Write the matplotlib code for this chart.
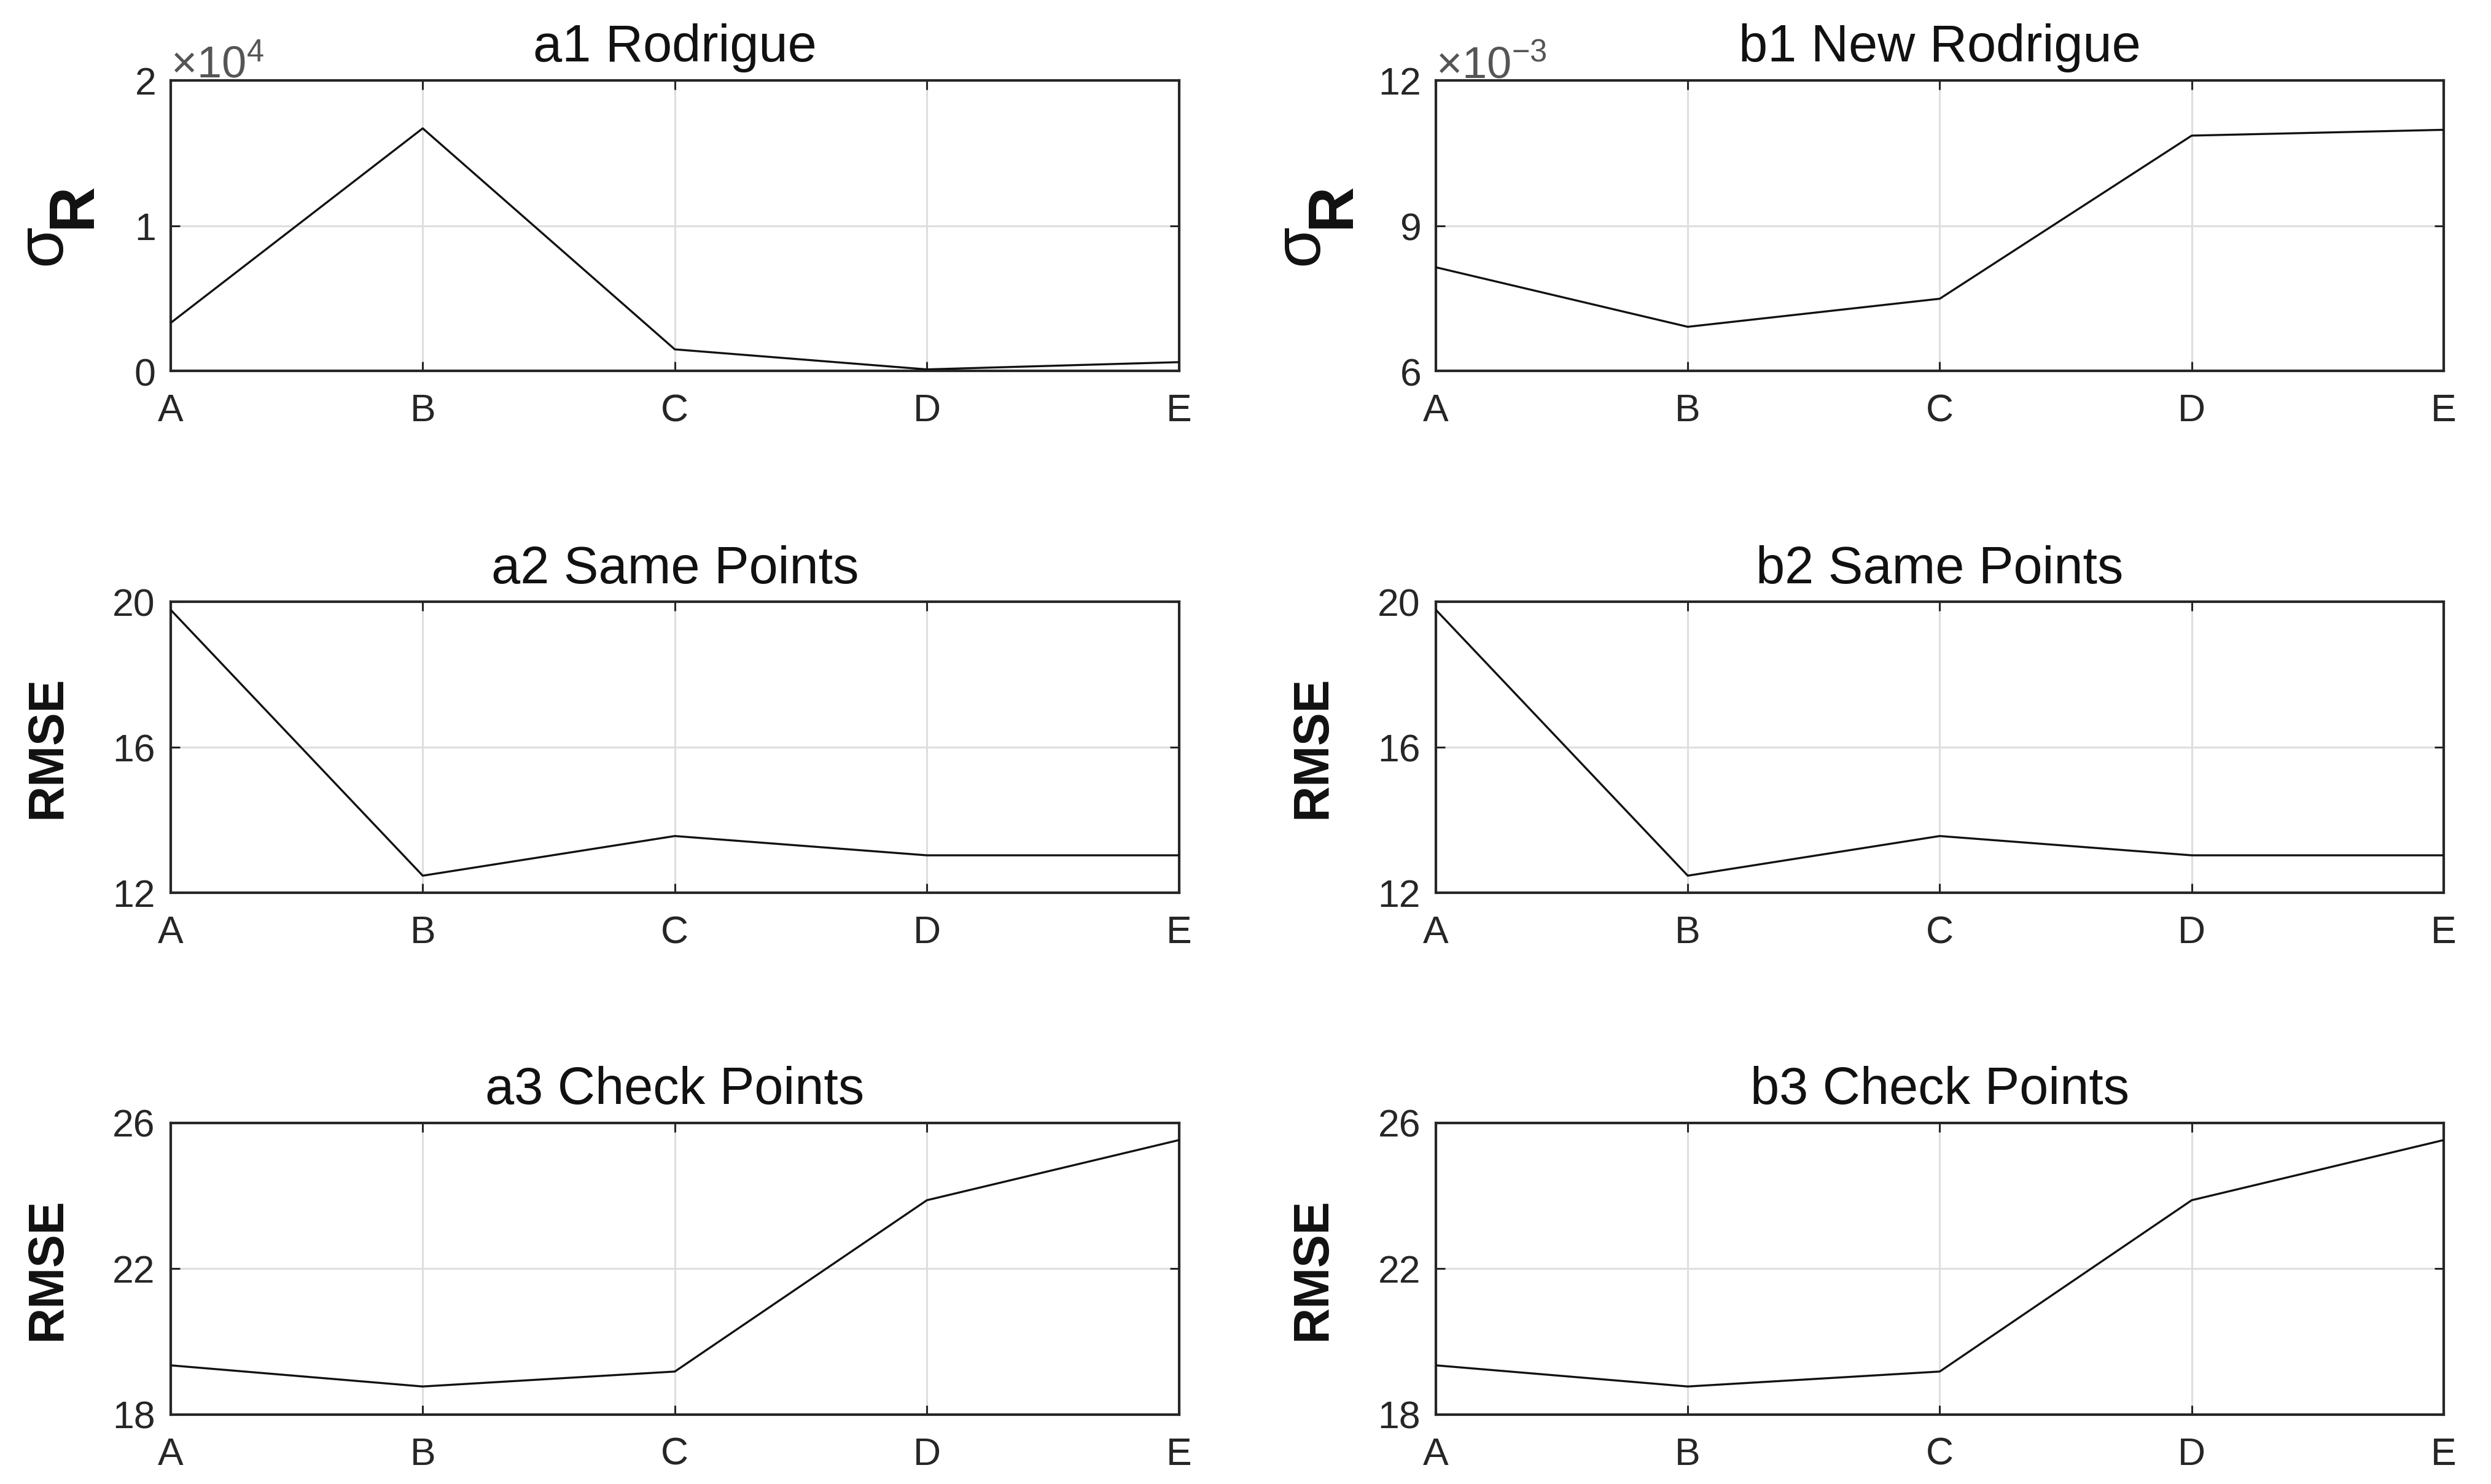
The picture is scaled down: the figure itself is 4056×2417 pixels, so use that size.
import matplotlib
matplotlib.use("Agg")
import matplotlib.pyplot as plt

plt.rcParams['font.family'] = ['Liberation Sans', 'DejaVu Sans']
plt.rcParams['mathtext.fontset'] = 'custom'
plt.rcParams['mathtext.rm'] = 'Liberation Sans'
plt.rcParams['mathtext.it'] = 'Liberation Sans'
plt.rcParams['mathtext.bf'] = 'Liberation Sans:bold'

# data
cases = ["A", "B", "C", "D", "E"]
a1_rodrigue = [3300, 16700, 1480, 100, 600]
b1_new_rodrigue = [0.00814, 0.00691, 0.00749, 0.01086, 0.01098]
a2_same = [19.78, 12.47, 13.56, 13.03, 13.03]
b2_same = [19.78, 12.47, 13.56, 13.03, 13.03]
a3_check = [19.35, 18.77, 19.18, 23.88, 25.53]
b3_check = [19.35, 18.77, 19.18, 23.88, 25.53]

titles = ["a1 Rodrigue", "b1 New Rodrigue", "a2 Same Points", "b2 Same Points",
          "a3 Check Points", "b3 Check Points"]
series = [a1_rodrigue, b1_new_rodrigue, a2_same, b2_same, a3_check, b3_check]
yticks = [[0, 10000, 20000], [0.006, 0.009, 0.012], [12, 16, 20], [12, 16, 20],
          [18, 22, 26], [18, 22, 26]]
sci_power = [4, -3, None, None, None, None]

dark = '#262626'
fig = plt.figure(figsize=(40.56, 24.17), dpi=100)

lefts = [0.0685, 0.5764]
widths = [0.4048, 0.4046]
bottoms = [0.7501, 0.3984, 0.0468]
heights = [0.1957, 0.1961, 0.1965]

x = list(range(len(cases)))
for i in range(6):
    r, c = i // 2, i % 2
    ax = fig.add_axes([lefts[c], bottoms[r], widths[c], heights[r]])
    ax.plot(x, series[i], color='#111111', lw=2.4, zorder=3)
    ax.set_xlim(0, len(cases) - 1)
    ax.set_ylim(yticks[i][0], yticks[i][-1])
    ax.set_xticks(x)
    ax.set_xticklabels(cases)
    ax.set_yticks(yticks[i])
    ax.grid(True, color='#dedede', lw=2.2, zorder=0)
    ax.set_axisbelow(True)
    ax.tick_params(direction='in', top=True, right=True, length=11, width=2.2,
                   color=dark, labelcolor=dark, labelsize=45, pad=18)
    ax.tick_params(axis='x', pad=26)
    for s in ax.spines.values():
        s.set_linewidth(3)
        s.set_color(dark)
    ax.set_title(titles[i], fontsize=61, pad=22, color='#111111')
    if sci_power[i] is not None:
        p = sci_power[i]
        ax.ticklabel_format(axis='y', style='sci', scilimits=(p, p), useMathText=True)
        ot = ax.yaxis.get_offset_text()
        ot.set_fontsize(52)
        ot.set_color('#555555')
        # sigma_R label
        sx = -0.126 if c == 0 else -0.134
        rx = -0.096 if c == 0 else -0.102
        ax.set_ylabel('σ', fontsize=78, color='#111111')
        ax.yaxis.label.set_verticalalignment('center')
        ax.yaxis.set_label_coords(sx, 0.435)
        ax.text(rx, 0.57, 'R', transform=ax.transAxes, rotation=90, fontsize=74,
                fontweight='bold', color='#111111', ha='center', va='center',
                rotation_mode='anchor')
    else:
        ax.set_ylabel('RMSE', fontsize=58, fontweight='bold', color='#111111')
        ax.yaxis.label.set_verticalalignment('center')
        ax.yaxis.set_label_coords(-0.122, 0.5)

fig.savefig("out.png", dpi=100)
